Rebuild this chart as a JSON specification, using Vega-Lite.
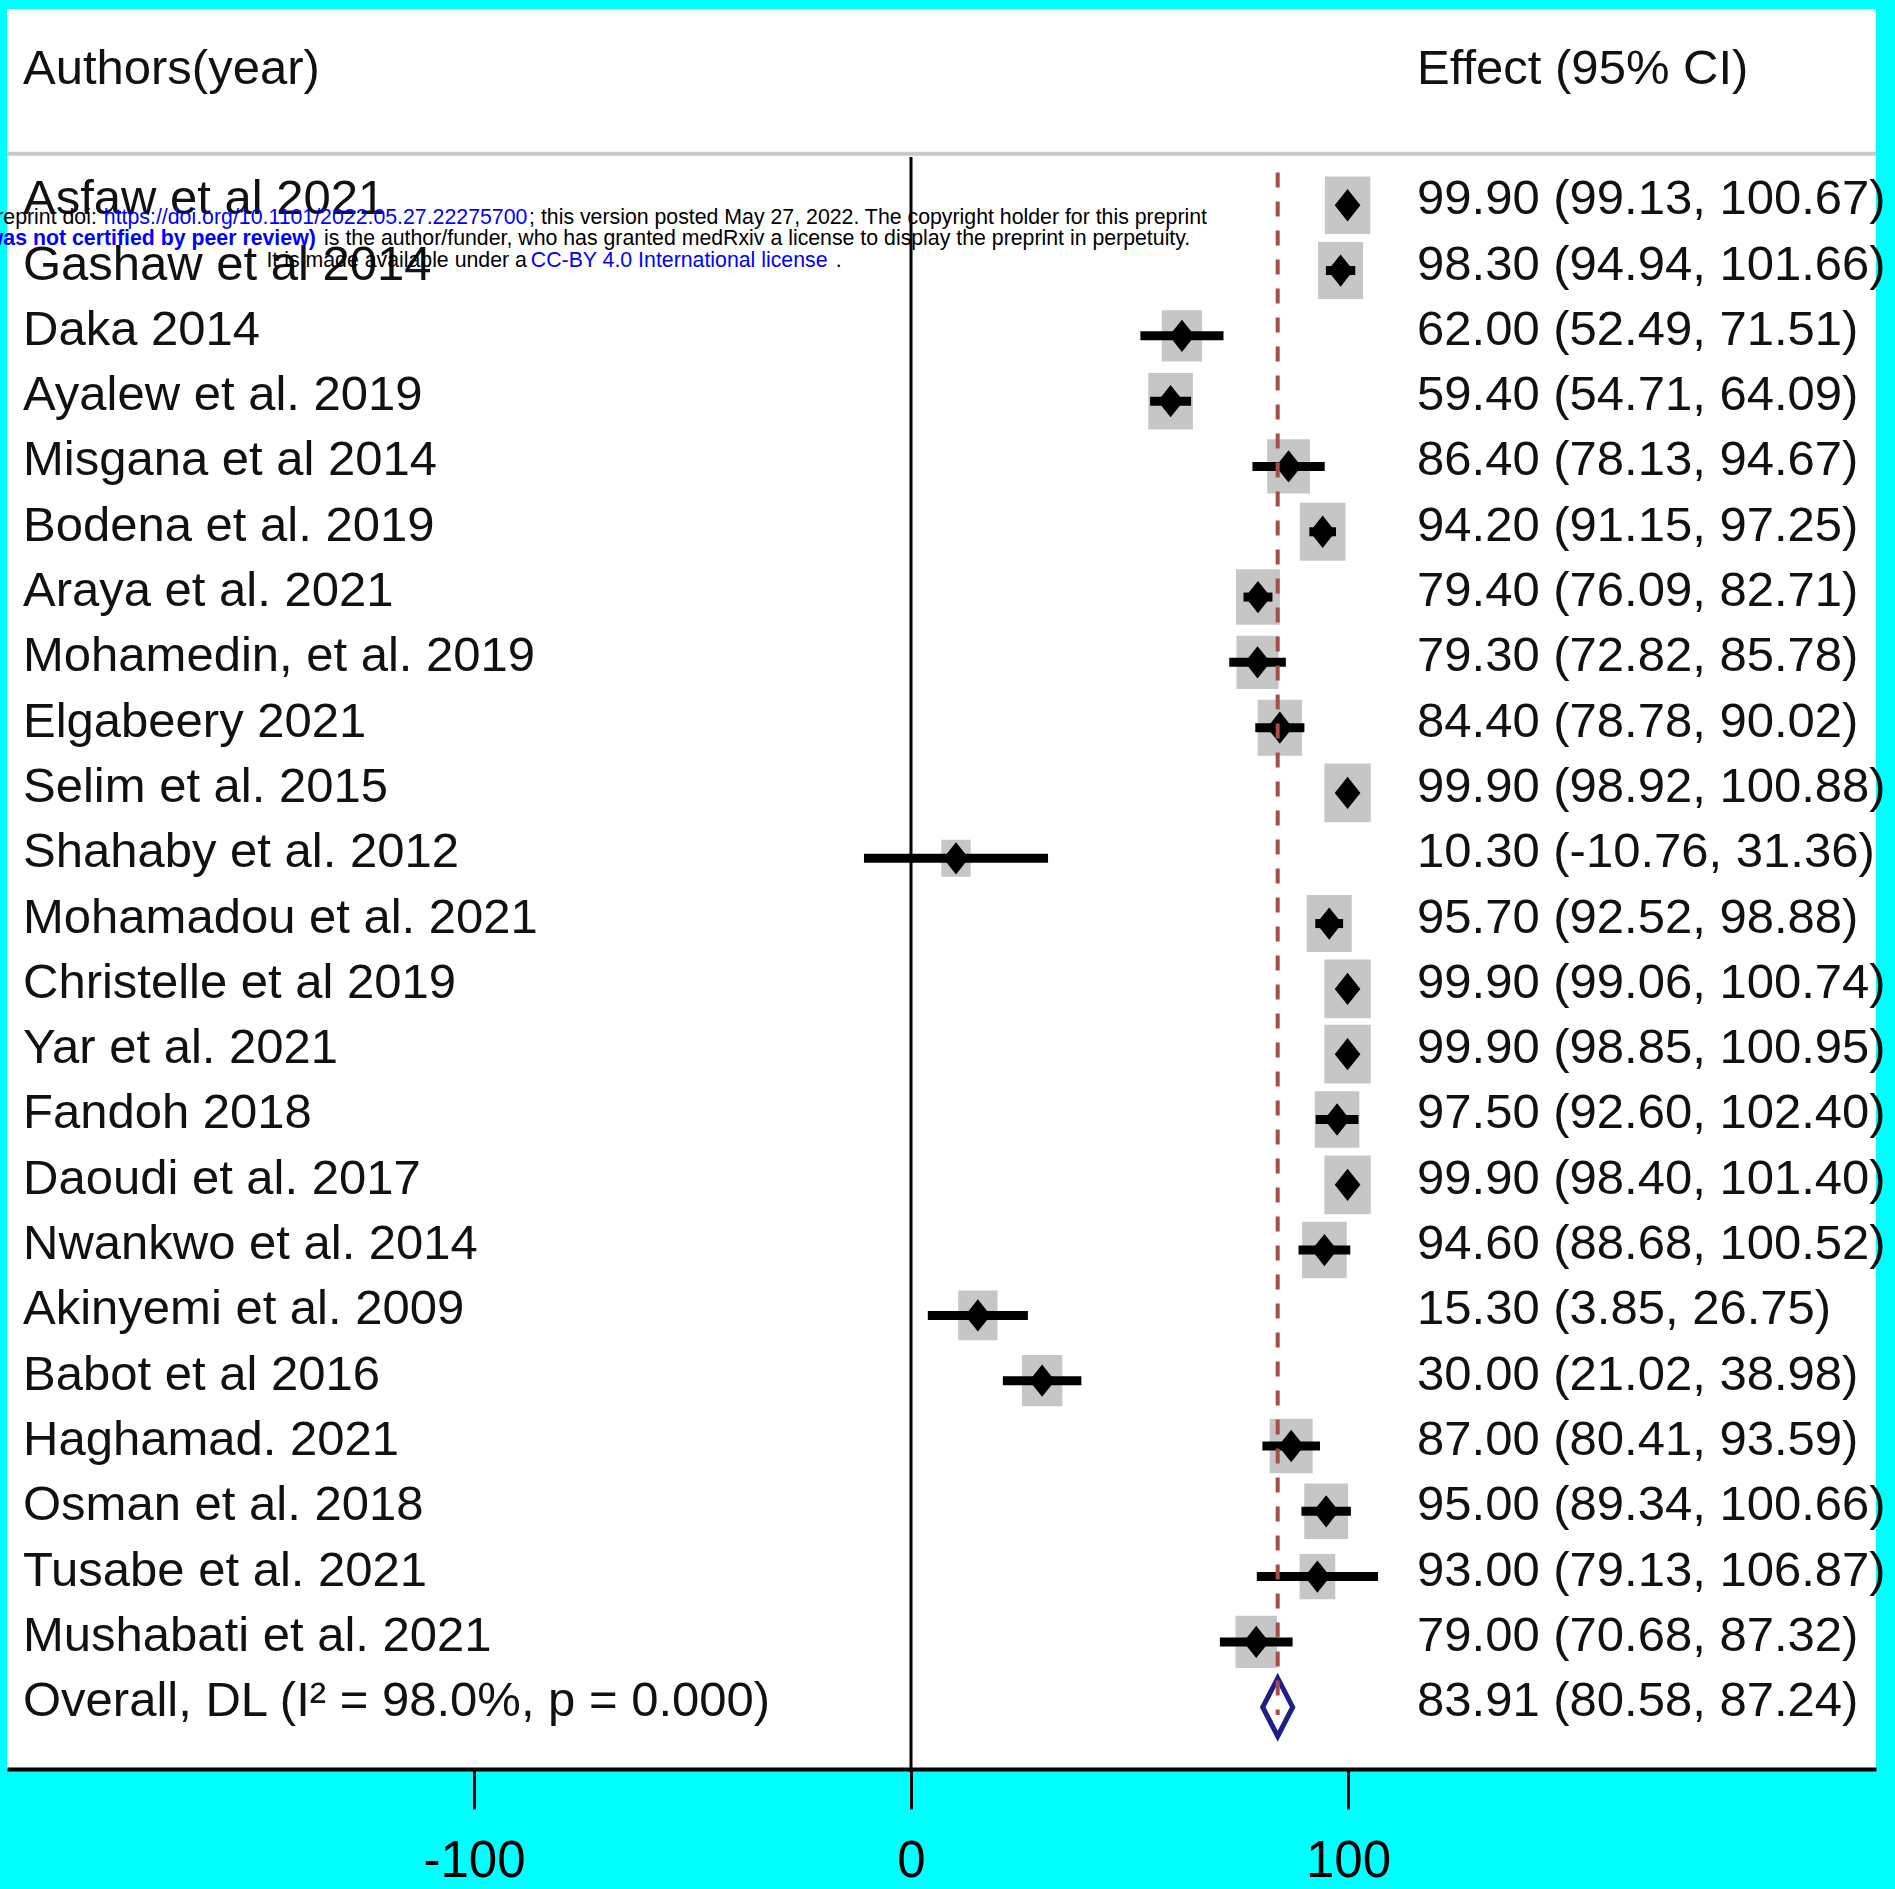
{
  "$schema": "https://vega.github.io/schema/vega-lite/v6.json",
  "width": 1869,
  "height": 1760,
  "autosize": {"type": "none"},
  "padding": {"left": 7, "top": 9, "right": 19, "bottom": 120},
  "background": "#00FFFF",
  "config": {
    "view": {"fill": "white", "stroke": null},
    "font": "Liberation Sans, Arial, sans-serif"
  },
  "datasets": {
    "rows": [
      {"study": "Authors(year)", "ci": "Effect (95% CI)", "kind": "header"},
      {"study": "Asfaw et al 2021", "es": 99.9, "lo": 99.13, "hi": 100.67, "w": 4.83, "ci": "99.90 (99.13, 100.67)", "kind": "study"},
      {"study": "Gashaw et al 2014", "es": 98.3, "lo": 94.94, "hi": 101.66, "w": 4.74, "ci": "98.30 (94.94, 101.66)", "kind": "study"},
      {"study": "Daka 2014", "es": 62.0, "lo": 52.49, "hi": 71.51, "w": 3.82, "ci": "62.00 (52.49, 71.51)", "kind": "study"},
      {"study": "Ayalew et al.  2019", "es": 59.4, "lo": 54.71, "hi": 64.09, "w": 4.66, "ci": "59.40 (54.71, 64.09)", "kind": "study"},
      {"study": "Misgana et al  2014", "es": 86.4, "lo": 78.13, "hi": 94.67, "w": 4.31, "ci": "86.40 (78.13, 94.67)", "kind": "study"},
      {"study": "Bodena et al. 2019", "es": 94.2, "lo": 91.15, "hi": 97.25, "w": 4.89, "ci": "94.20 (91.15, 97.25)", "kind": "study"},
      {"study": "Araya et al. 2021", "es": 79.4, "lo": 76.09, "hi": 82.71, "w": 4.51, "ci": "79.40 (76.09, 82.71)", "kind": "study"},
      {"study": "Mohamedin, et al. 2019", "es": 79.3, "lo": 72.82, "hi": 85.78, "w": 4.15, "ci": "79.30 (72.82, 85.78)", "kind": "study"},
      {"study": "Elgabeery 2021", "es": 84.4, "lo": 78.78, "hi": 90.02, "w": 4.59, "ci": "84.40 (78.78, 90.02)", "kind": "study"},
      {"study": "Selim et al. 2015", "es": 99.9, "lo": 98.92, "hi": 100.88, "w": 5.04, "ci": "99.90 (98.92, 100.88)", "kind": "study"},
      {"study": "Shahaby et al. 2012", "es": 10.3, "lo": -10.76, "hi": 31.36, "w": 2.01, "ci": "10.30 (-10.76, 31.36)", "kind": "study"},
      {"study": "Mohamadou et al. 2021", "es": 95.7, "lo": 92.52, "hi": 98.88, "w": 4.74, "ci": "95.70 (92.52, 98.88)", "kind": "study"},
      {"study": "Christelle et al 2019", "es": 99.9, "lo": 99.06, "hi": 100.74, "w": 5.04, "ci": "99.90 (99.06, 100.74)", "kind": "study"},
      {"study": "Yar et al. 2021", "es": 99.9, "lo": 98.85, "hi": 100.95, "w": 5.04, "ci": "99.90 (98.85, 100.95)", "kind": "study"},
      {"study": "Fandoh 2018", "es": 97.5, "lo": 92.6, "hi": 102.4, "w": 4.66, "ci": "97.50 (92.60, 102.40)", "kind": "study"},
      {"study": "Daoudi et al. 2017", "es": 99.9, "lo": 98.4, "hi": 101.4, "w": 5.04, "ci": "99.90 (98.40, 101.40)", "kind": "study"},
      {"study": "Nwankwo et al. 2014", "es": 94.6, "lo": 88.68, "hi": 100.52, "w": 4.66, "ci": "94.60 (88.68, 100.52)", "kind": "study"},
      {"study": "Akinyemi et al. 2009", "es": 15.3, "lo": 3.85, "hi": 26.75, "w": 3.62, "ci": "15.30 (3.85, 26.75)", "kind": "study"},
      {"study": "Babot et al 2016", "es": 30.0, "lo": 21.02, "hi": 38.98, "w": 3.82, "ci": "30.00 (21.02, 38.98)", "kind": "study"},
      {"study": "Haghamad. 2021", "es": 87.0, "lo": 80.41, "hi": 93.59, "w": 4.31, "ci": "87.00 (80.41, 93.59)", "kind": "study"},
      {"study": "Osman et al. 2018", "es": 95.0, "lo": 89.34, "hi": 100.66, "w": 4.51, "ci": "95.00 (89.34, 100.66)", "kind": "study"},
      {"study": "Tusabe et al. 2021", "es": 93.0, "lo": 79.13, "hi": 106.87, "w": 2.98, "ci": "93.00 (79.13, 106.87)", "kind": "study"},
      {"study": "Mushabati et al. 2021", "es": 79.0, "lo": 70.68, "hi": 87.32, "w": 4.01, "ci": "79.00 (70.68, 87.32)", "kind": "study"},
      {"study": "Overall, DL (I² = 98.0%, p = 0.000)", "es": 83.91, "lo": 80.58, "hi": 87.24, "ci": "83.91 (80.58, 87.24)", "kind": "overall"}
    ],
    "notice": [
      {"part": "1a", "seg": "medRxiv preprint doi:"},
      {"part": "1b", "seg": "https://doi.org/10.1101/2022.05.27.22275700"},
      {"part": "1c", "seg": "; this version posted May 27, 2022. The copyright holder for this preprint"},
      {"part": "2a", "seg": "(which was not certified by peer review)"},
      {"part": "2b", "seg": "is the author/funder, who has granted medRxiv a license to display the preprint in perpetuity."},
      {"part": "3a", "seg": "It is made available under a"},
      {"part": "3b", "seg": "CC-BY 4.0 International license"},
      {"part": "3c", "seg": "."}
    ]
  },
  "data": {"name": "rows"},
  "encoding": {
    "y": {
      "field": "study",
      "type": "nominal",
      "title": null,
      "axis": null,
      "scale": {
        "type": "band",
        "domain": ["Authors(year)", " ", "Asfaw et al 2021", "Gashaw et al 2014", "Daka 2014", "Ayalew et al.  2019", "Misgana et al  2014", "Bodena et al. 2019", "Araya et al. 2021", "Mohamedin, et al. 2019", "Elgabeery 2021", "Selim et al. 2015", "Shahaby et al. 2012", "Mohamadou et al. 2021", "Christelle et al 2019", "Yar et al. 2021", "Fandoh 2018", "Daoudi et al. 2017", "Nwankwo et al. 2014", "Akinyemi et al. 2009", "Babot et al 2016", "Haghamad. 2021", "Osman et al. 2018", "Tusabe et al. 2021", "Mushabati et al. 2021", "Overall, DL (I² = 98.0%, p = 0.000)"],
        "paddingInner": 0,
        "paddingOuter": 0.476,
        "align": 0.531
      }
    }
  },
  "layer": [
    {
      "transform": [{"filter": "datum.kind === 'header'"}],
      "mark": {"type": "rule", "color": "#c8c8c8", "strokeWidth": 4},
      "encoding": {
        "y": {"datum": " ", "bandPosition": 0.71}
      }
    },
    {
      "transform": [{"filter": "datum.kind === 'study'"}],
      "mark": {"type": "point", "shape": "M-0.79,-1L0.79,-1L0.79,1L-0.79,1Z", "filled": true, "color": "#c6c6c6", "opacity": 1},
      "encoding": {
        "x": {
          "field": "es",
          "type": "quantitative",
          "title": null,
          "scale": {"domain": [-206.86, 220.82], "nice": false, "zero": false},
          "axis": {
            "values": [-100, 0, 100],
            "title": null,
            "grid": false,
            "domainColor": "black",
            "domainWidth": 4,
            "tickColor": "black",
            "tickWidth": 3,
            "tickSize": 40,
            "labelFontSize": 51,
            "labelColor": "black",
            "labelPadding": 27,
            "labelFlush": false,
            "labelOverlap": false,
            "labelExpr": "'' + datum.value"
          }
        },
        "size": {"field": "w", "type": "quantitative", "scale": {"domain": [0, 5], "range": [0, 3421]}, "legend": null}
      }
    },
    {
      "transform": [{"filter": "datum.kind === 'header'"}],
      "mark": {"type": "rule", "color": "black", "strokeWidth": 3},
      "encoding": {
        "x": {"datum": 0, "type": "quantitative", "title": null},
        "y": {"datum": " ", "bandPosition": 0.76},
        "y2": {"datum": "Overall, DL (I² = 98.0%, p = 0.000)", "bandPosition": 1.5}
      }
    },
    {
      "transform": [{"filter": "datum.kind === 'study'"}],
      "mark": {"type": "rule", "color": "black", "strokeWidth": 9},
      "encoding": {
        "x": {"field": "lo", "type": "quantitative", "title": null},
        "x2": {"field": "hi"}
      }
    },
    {
      "transform": [{"filter": "datum.kind === 'study'"}],
      "mark": {"type": "point", "shape": "M0,-1L0.795,0L0,1L-0.795,0Z", "filled": true, "color": "black", "opacity": 1, "size": 1043},
      "encoding": {
        "x": {"field": "es", "type": "quantitative", "title": null}
      }
    },
    {
      "transform": [{"filter": "datum.kind === 'overall'"}],
      "mark": {"type": "point", "shape": "M0,-1L0.517,0L0,1L-0.517,0Z", "filled": false, "stroke": "#1f1f88", "strokeWidth": 5, "opacity": 1, "size": 3364},
      "encoding": {
        "x": {"field": "es", "type": "quantitative", "title": null}
      }
    },
    {
      "transform": [{"filter": "datum.kind === 'overall'"}],
      "mark": {"type": "rule", "color": "#a3504c", "strokeWidth": 4, "strokeDash": [15, 14]},
      "encoding": {
        "x": {"field": "es", "type": "quantitative", "title": null},
        "y": {"datum": "Asfaw et al 2021", "bandPosition": 0},
        "y2": {"datum": "Overall, DL (I² = 98.0%, p = 0.000)", "bandPosition": 0.62}
      }
    },
    {
      "mark": {"type": "text", "align": "left", "baseline": "alphabetic", "dy": 9, "fontSize": 49, "color": "#111111"},
      "encoding": {
        "x": {"datum": -203.2, "type": "quantitative", "title": null},
        "text": {"field": "study"}
      }
    },
    {
      "mark": {"type": "text", "align": "left", "baseline": "alphabetic", "dy": 9, "fontSize": 49, "color": "#111111"},
      "encoding": {
        "x": {"datum": 115.8, "type": "quantitative", "title": null},
        "text": {"field": "ci"}
      }
    },
    {
      "data": {"name": "notice"},
      "transform": [{"filter": "datum.part === '1a'"}],
      "mark": {"type": "text", "align": "right", "baseline": "alphabetic", "fontSize": 21.3, "color": "black"},
      "encoding": {
        "x": {"datum": -186.3, "type": "quantitative", "title": null},
        "y": {"datum": "Asfaw et al 2021", "bandPosition": 0.794},
        "text": {"field": "seg"}
      }
    },
    {
      "data": {"name": "notice"},
      "transform": [{"filter": "datum.part === '1b'"}],
      "mark": {"type": "text", "align": "left", "baseline": "alphabetic", "fontSize": 21.3, "color": "#0000ff"},
      "encoding": {
        "x": {"datum": -184.7, "type": "quantitative", "title": null},
        "y": {"datum": "Asfaw et al 2021", "bandPosition": 0.794},
        "text": {"field": "seg"}
      }
    },
    {
      "data": {"name": "notice"},
      "transform": [{"filter": "datum.part === '1c'"}],
      "mark": {"type": "text", "align": "left", "baseline": "alphabetic", "fontSize": 21.3, "color": "black"},
      "encoding": {
        "x": {"datum": -87.4, "type": "quantitative", "title": null},
        "y": {"datum": "Asfaw et al 2021", "bandPosition": 0.794},
        "text": {"field": "seg"}
      }
    },
    {
      "data": {"name": "notice"},
      "transform": [{"filter": "datum.part === '2a'"}],
      "mark": {"type": "text", "align": "right", "baseline": "alphabetic", "fontSize": 21.3, "fontWeight": "bold", "color": "#0000ff"},
      "encoding": {
        "x": {"datum": -136.2, "type": "quantitative", "title": null},
        "y": {"datum": "Gashaw et al 2014", "bandPosition": 0.108},
        "text": {"field": "seg"}
      }
    },
    {
      "data": {"name": "notice"},
      "transform": [{"filter": "datum.part === '2b'"}],
      "mark": {"type": "text", "align": "left", "baseline": "alphabetic", "fontSize": 21.3, "color": "black"},
      "encoding": {
        "x": {"datum": -134.3, "type": "quantitative", "title": null},
        "y": {"datum": "Gashaw et al 2014", "bandPosition": 0.108},
        "text": {"field": "seg"}
      }
    },
    {
      "data": {"name": "notice"},
      "transform": [{"filter": "datum.part === '3a'"}],
      "mark": {"type": "text", "align": "left", "baseline": "alphabetic", "fontSize": 21.3, "color": "black"},
      "encoding": {
        "x": {"datum": -147.5, "type": "quantitative", "title": null},
        "y": {"datum": "Gashaw et al 2014", "bandPosition": 0.445},
        "text": {"field": "seg"}
      }
    },
    {
      "data": {"name": "notice"},
      "transform": [{"filter": "datum.part === '3b'"}],
      "mark": {"type": "text", "align": "left", "baseline": "alphabetic", "fontSize": 21.3, "color": "#0000ff"},
      "encoding": {
        "x": {"datum": -87.0, "type": "quantitative", "title": null},
        "y": {"datum": "Gashaw et al 2014", "bandPosition": 0.445},
        "text": {"field": "seg"}
      }
    },
    {
      "data": {"name": "notice"},
      "transform": [{"filter": "datum.part === '3c'"}],
      "mark": {"type": "text", "align": "left", "baseline": "alphabetic", "fontSize": 21.3, "color": "black"},
      "encoding": {
        "x": {"datum": -17.2, "type": "quantitative", "title": null},
        "y": {"datum": "Gashaw et al 2014", "bandPosition": 0.445},
        "text": {"field": "seg"}
      }
    }
  ]
}
